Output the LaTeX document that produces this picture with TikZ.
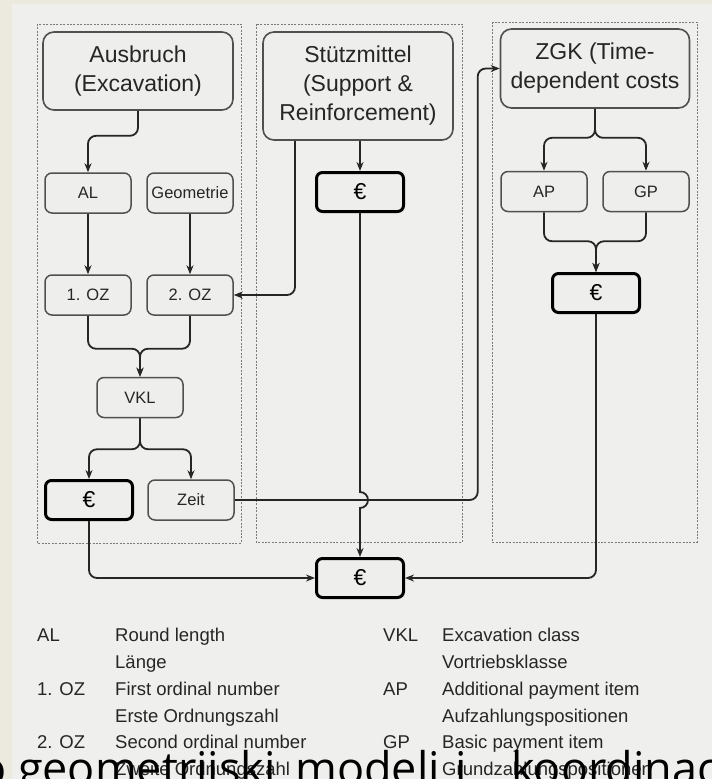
\documentclass[tikz,border=0pt]{standalone}
\usepackage{fontspec}
\setmainfont{Liberation Sans}
\newfontfamily\capfont{Open Sans}
\usetikzlibrary{arrows.meta}
\definecolor{pagebg}{HTML}{EFEFED}
\definecolor{strip}{HTML}{ECEADF}
\definecolor{boxfill}{HTML}{EEEEEC}
\definecolor{ink}{HTML}{262626}
\definecolor{frame}{HTML}{505050}
\definecolor{grp}{HTML}{7A7A7A}
\tikzset{
  bigbox/.style={draw=frame, line width=1.6pt, fill=boxfill, rounded corners=11pt,
    align=center, inner sep=0pt, font=\fontsize{23}{29}\selectfont, text=ink},
  smallbox/.style={draw=frame, line width=1.5pt, fill=boxfill, rounded corners=7pt,
    inner sep=0pt, minimum width=86pt, minimum height=40pt,
    font=\fontsize{16.5}{20}\selectfont, text=ink},
  eurobox/.style={draw=black, line width=3pt, fill=boxfill, rounded corners=6pt,
    inner sep=0pt, minimum width=87pt, minimum height=39pt,
    font=\fontsize{23}{26}\selectfont, text=black},
  group/.style={draw=grp, line width=0.9pt, dash pattern=on 2pt off 1.4pt},
  conn/.style={draw=ink, line width=1.8pt, rounded corners=8pt,
    -{Stealth[length=9pt,width=7pt]}},
  legend/.style={anchor=base west, inner sep=0pt, text=ink,
    font=\fontsize{18.5}{22}\selectfont},
  capword/.style={anchor=base west, inner sep=0pt, text=black,
    font=\capfont\fontsize{45}{50}\selectfont},
}
\begin{document}
\begin{tikzpicture}[x=1pt,y=-1pt]
\useasboundingbox (0,0) rectangle (712,779);
\clip (0,0) rectangle (712,779);
% paper
\fill[pagebg] (0,0) rectangle (712,779);
\fill[strip] (0,0) rectangle (12,779);
\fill[strip] (0,0) rectangle (712,4);

% the three cost groups
\draw[group] (37,24) rectangle (241,543);
\draw[group] (256,24) rectangle (462,542);
\draw[group] (492,22) rectangle (697,542);

% main boxes
\node[bigbox, minimum width=190pt, minimum height=78pt] (aus) at (138,71)
  {Ausbruch\\(Excavation)};
\node[bigbox, minimum width=190pt, minimum height=108pt] (stz) at (358,86)
  {Stützmittel\\(Support \&\\Reinforcement)};
\node[bigbox, minimum width=189pt, minimum height=79pt] (zgk) at (595,68.5)
  {ZGK (Time-\\dependent costs};

% excavation group
\node[smallbox] (al)  at (88,193)  {AL};
\node[smallbox] (geo) at (190,193) {Geometrie};
\node[smallbox] (oz1) at (88,295)  {1. OZ};
\node[smallbox] (oz2) at (190,295) {2. OZ};
\node[smallbox] (vkl) at (140,397.5) {VKL};
\node[eurobox]  (eua) at (89,500)  {€};
\node[smallbox] (zeit) at (191,500) {Zeit};

% support group
\node[eurobox] (eus) at (360,192) {€};

% time-dependent group
\node[smallbox] (ap) at (544,191.5) {AP};
\node[smallbox] (gp) at (646,191.5) {GP};
\node[eurobox] (euz) at (596,293) {€};

% total
\node[eurobox] (tot) at (360,578) {€};

% connectors: excavation
\draw[conn] (aus.south) -- ++(0,25) -| (al.north);
\draw[conn] (al.south) -- (al.south |- oz1.north);
\draw[conn] (geo.south) -- (geo.south |- oz2.north);
\draw[conn] (oz1.south) -- ++(0,33) -| (vkl.north);
\draw[conn] (oz2.south) -- ++(0,33) -| (vkl.north);
\draw[conn] (vkl.south) -- ++(0,31) -| (eua.north);
\draw[conn] (vkl.south) -- ++(0,31) -| (zeit.north);
\draw[conn] (eua.south) |- (tot.west);

% connectors: support
\draw[conn] ([xshift=-63pt]stz.south) |- (oz2.east);
\draw[conn] (stz.south -| eus.north) -- (eus.north);

% time line from Zeit to ZGK
\draw[conn] (zeit.east) -| ([xshift=-22pt]zgk.west) -- (zgk.west);

% support cost to total, hopping over the time line
\draw[conn, sharp corners] (eus.south) -- (360,492)
  arc[start angle=-90, end angle=90, radius=8] -- (tot.north);

% connectors: time-dependent costs
\draw[conn] (zgk.south) -- ++(0,29) -| (ap.north);
\draw[conn] (zgk.south) -- ++(0,29) -| (gp.north);
\draw[conn] (ap.south) -- ++(0,29) -| (euz.north);
\draw[conn] (gp.south) -- ++(0,29) -| (euz.north);
\draw[conn] (euz.south) |- (tot.east);

% legend
\node[legend] (l1a) at (37,641) {AL};
\node[legend] (l1b) at (115,641) {Round length};
\node[legend] (l2b) at (115,668) {Länge};
\node[legend] (l3a) at (37,695) {1. OZ};
\node[legend] (l3b) at (115,695) {First ordinal number};
\node[legend] (l4b) at (115,722) {Erste Ordnungszahl};
\node[legend] (l5a) at (37,748) {2. OZ};
\node[legend] (l5b) at (115,748) {Second ordinal number};
\node[legend] (l6b) at (115,775) {Zweite Ordnungszahl};
\node[legend] (r1a) at (383,641) {VKL};
\node[legend] (r1b) at (442,641) {Excavation class};
\node[legend] (r2b) at (442,668) {Vortriebsklasse};
\node[legend] (r3a) at (383,695) {AP};
\node[legend] (r3b) at (442,695) {Additional payment item};
\node[legend] (r4b) at (442,722) {Aufzahlungspositionen};
\node[legend] (r5a) at (383,748) {GP};
\node[legend] (r5b) at (442,748) {Basic payment item};
\node[legend] (r6b) at (442,775) {Grundzahlungspositionen};

% caption line running over the bottom edge
\node[capword] (cw1) at (-21,784) {o geometrijski};
\node[capword] (cw2) at (295,784) {modeli};
\node[capword] (cw3) at (455,784) {i};
\node[capword] (cw4) at (511,784) {koordinacija};
\end{tikzpicture}
\end{document}
